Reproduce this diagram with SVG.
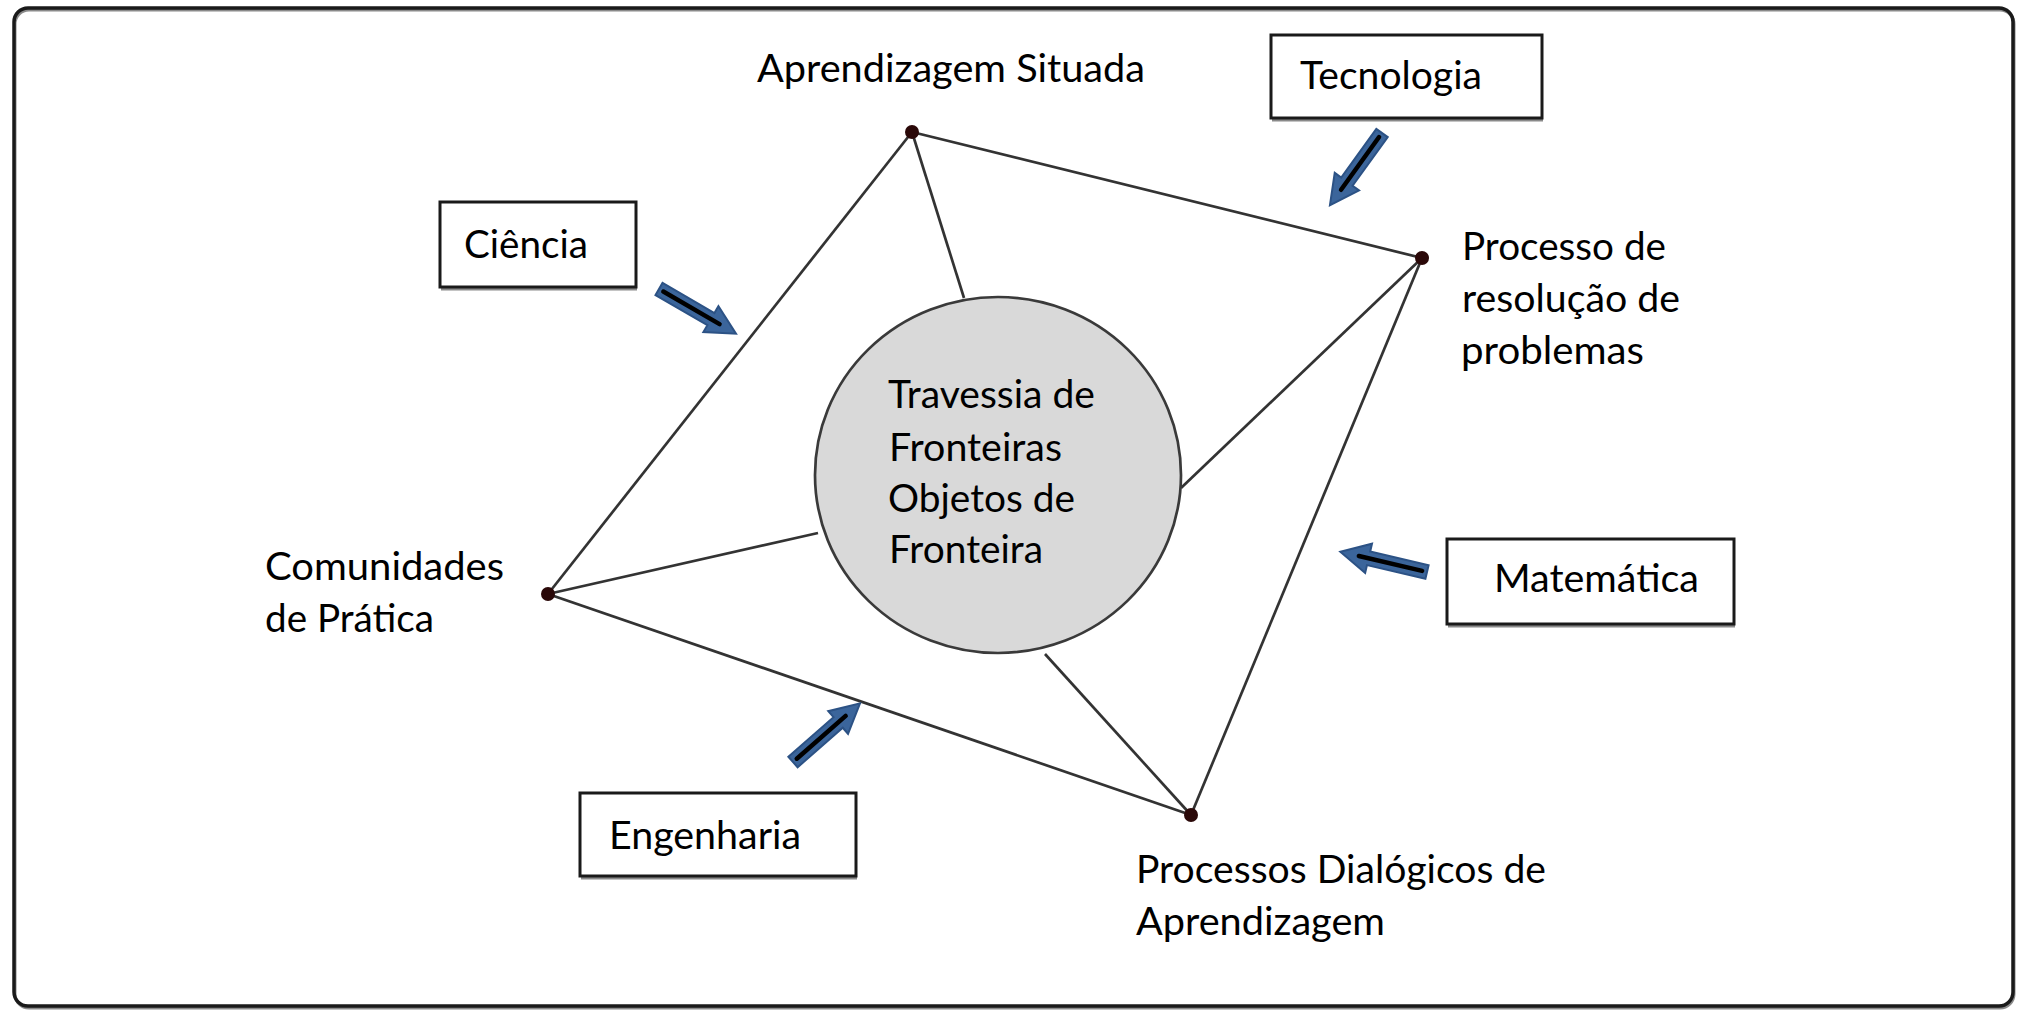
<svg xmlns="http://www.w3.org/2000/svg" width="2026" height="1013" viewBox="0 0 2026 1013">
<style>
.t{font-family:Lato,"Open Sans","Liberation Sans",sans-serif;font-size:38px;fill:#000}
.box{fill:#fff;stroke:#1a1a1a;stroke-width:3}
.shadow{fill:none;stroke:#8a8a8a;stroke-width:3}
.edge{stroke:#333;stroke-width:2.7;fill:none}
.dot{fill:#2a0808}
.arr{fill:#3b659b;stroke:#2c5285;stroke-width:2}
.shaft{stroke:#000;stroke-width:4.5;stroke-linecap:round}
</style>
<defs>
<g id="arrow">
<polygon class="arr" points="0,-7 60,-7 60,-15 89,0 60,15 60,7 0,7"/>
<line class="shaft" x1="5" y1="0" x2="70" y2="0"/>
</g>
</defs>
<rect x="0" y="0" width="2026" height="1013" fill="#fff"/>
<rect x="15" y="10" width="1999" height="998" rx="14" class="shadow"/>
<rect id="frame" x="14" y="8" width="1999" height="998" rx="14" fill="none" stroke="#1a1a1a" stroke-width="3.5"/>

<g id="connectors">
<line class="edge" x1="912" y1="132" x2="1422" y2="258"/>
<line class="edge" x1="1422" y1="258" x2="1191" y2="815"/>
<line class="edge" x1="1191" y1="815" x2="548" y2="594"/>
<line class="edge" x1="548" y1="594" x2="912" y2="132"/>
<line class="edge" x1="912" y1="132" x2="964" y2="298"/>
<line class="edge" x1="1422" y1="258" x2="1181" y2="488"/>
<line class="edge" x1="1191" y1="815" x2="1045" y2="654"/>
<line class="edge" x1="548" y1="594" x2="818" y2="533"/>
<use href="#arrow" transform="translate(659,289) rotate(30.1)"/>
<use href="#arrow" transform="translate(1382,133) rotate(125.8)"/>
<use href="#arrow" transform="translate(1427,572) rotate(193.2)"/>
<use href="#arrow" transform="translate(793,762) rotate(-41.2)"/>
</g>

<g id="center">
<ellipse cx="998" cy="475" rx="183" ry="178" fill="#d9d9d9" stroke="#3a3a3a" stroke-width="2.7"/>
<text class="t" x="888" y="408" textLength="207" lengthAdjust="spacingAndGlyphs">Travessia de</text>
<text class="t" x="889" y="461" textLength="173" lengthAdjust="spacingAndGlyphs">Fronteiras</text>
<text class="t" x="888" y="512" textLength="187" lengthAdjust="spacingAndGlyphs">Objetos de</text>
<text class="t" x="889" y="563" textLength="154" lengthAdjust="spacingAndGlyphs">Fronteira</text>
</g>

<g id="aprendizagem-situada">
<circle class="dot" cx="912" cy="132" r="7"/>
<text class="t" x="757" y="82" textLength="388" lengthAdjust="spacingAndGlyphs">Aprendizagem Situada</text>
</g>

<g id="processo-resolucao">
<circle class="dot" cx="1422" cy="258" r="7"/>
<text class="t" x="1462" y="260" textLength="204" lengthAdjust="spacingAndGlyphs">Processo de</text>
<text class="t" x="1462" y="312" textLength="218" lengthAdjust="spacingAndGlyphs">resolução de</text>
<text class="t" x="1461" y="364" textLength="183" lengthAdjust="spacingAndGlyphs">problemas</text>
</g>

<g id="processos-dialogicos">
<circle class="dot" cx="1191" cy="815" r="7"/>
<text class="t" x="1136" y="883" textLength="410" lengthAdjust="spacingAndGlyphs">Processos Dialógicos de</text>
<text class="t" x="1136" y="935" textLength="249" lengthAdjust="spacingAndGlyphs">Aprendizagem</text>
</g>

<g id="comunidades">
<circle class="dot" cx="548" cy="594" r="7"/>
<text class="t" x="265" y="580" textLength="239" lengthAdjust="spacingAndGlyphs">Comunidades</text>
<text class="t" x="265" y="632" textLength="169" lengthAdjust="spacingAndGlyphs">de Prática</text>
</g>

<g id="tecnologia">
<line class="shadow" x1="1272" y1="120" x2="1543" y2="120"/>
<rect class="box" x="1271" y="35" width="271" height="83"/>
<text class="t" x="1300" y="89" textLength="182" lengthAdjust="spacingAndGlyphs">Tecnologia</text>
</g>

<g id="ciencia">
<line class="shadow" x1="441" y1="289" x2="637" y2="289"/>
<rect class="box" x="440" y="202" width="196" height="85"/>
<text class="t" x="464" y="258" textLength="124" lengthAdjust="spacingAndGlyphs">Ciência</text>
</g>

<g id="matematica">
<line class="shadow" x1="1448" y1="626" x2="1735" y2="626"/>
<rect class="box" x="1447" y="539" width="287" height="85"/>
<text class="t" x="1494" y="592" textLength="205" lengthAdjust="spacingAndGlyphs">Matemática</text>
</g>

<g id="engenharia">
<line class="shadow" x1="581" y1="878" x2="857" y2="878"/>
<rect class="box" x="580" y="793" width="276" height="83"/>
<text class="t" x="609" y="849" textLength="192" lengthAdjust="spacingAndGlyphs">Engenharia</text>
</g>
</svg>
